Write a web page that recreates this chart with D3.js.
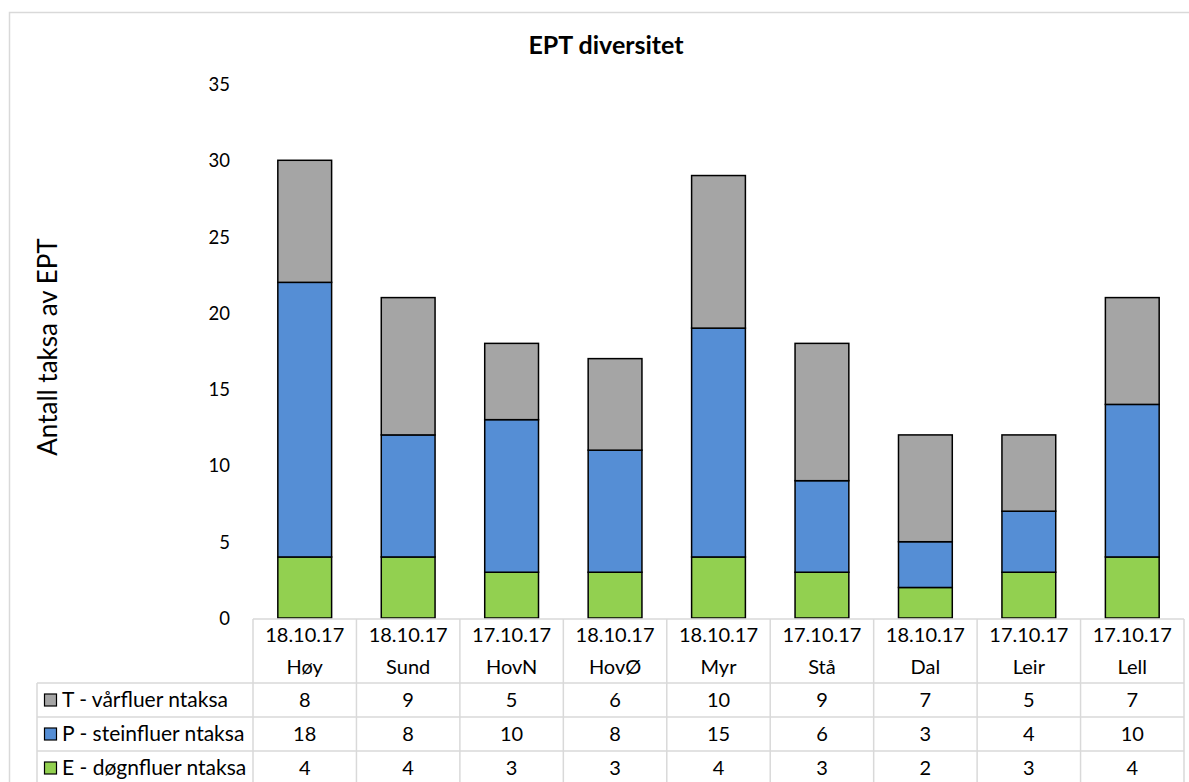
<!DOCTYPE html>
<html><head><meta charset="utf-8">
<script src="https://cdn.jsdelivr.net/npm/d3@7"></script>
<style>body{margin:0;background:#fff}svg{display:block;font-family:Lato,"Noto Sans",sans-serif}</style>
</head><body><svg id="c" width="1189" height="782"></svg>
<script>
const dates = ["18.10.17","18.10.17","17.10.17","18.10.17","18.10.17","17.10.17","18.10.17","17.10.17","17.10.17"];
const sites = ["Høy","Sund","HovN","HovØ","Myr","Stå","Dal","Leir","Lell"];
const seriesNames = ["T - vårfluer ntaksa","P - steinfluer ntaksa","E - døgnfluer ntaksa"];
const tValues = [8,9,5,6,10,9,7,5,7];
const pValues = [18,8,10,8,15,6,3,4,10];
const eValues = [4,4,3,3,4,3,2,3,4];
const yTicks = [0,5,10,15,20,25,30,35];
const colors = {E:"#92d050",P:"#558ed5",T:"#a5a5a5"};

const svg = d3.select("#c");
const grid = "#d9d9d9";
svg.append("rect").attr("x",9.5).attr("y",12.5).attr("width",1200).attr("height",800)
  .attr("fill","none").attr("stroke",grid).attr("stroke-width",1.5);

const x0 = 253, x1 = 1184;
const x = d3.scaleBand().domain(d3.range(sites.length)).range([x0,x1]).paddingInner(0.48).paddingOuter(0.24);
const y = d3.scaleLinear().domain([0,35]).range([618,84]);

svg.append("text").attr("x",606).attr("y",54).attr("text-anchor","middle")
  .attr("font-size",25).attr("font-weight","bold").attr("fill","#000").text("EPT diversitet");

svg.append("text").attr("transform","translate(57,347) rotate(-90)").attr("text-anchor","middle")
  .attr("font-size",26).attr("fill","#000").text("Antall taksa av EPT");

const yAxis = d3.axisLeft(y).tickValues(yTicks).tickSize(0).tickPadding(0);
const ga = svg.append("g").attr("transform","translate(230,0)").call(yAxis);
ga.select(".domain").remove();
ga.selectAll("text").attr("font-size",18.5).attr("fill","#000").attr("font-family","Lato,sans-serif").attr("dy","0.35em");

const rows = sites.map((s,i)=>({i,E:eValues[i],P:pValues[i],T:tValues[i]}));
const stack = d3.stack().keys(["E","P","T"])(rows);
svg.append("g").selectAll("g").data(stack).join("g").attr("fill",d=>colors[d.key])
  .selectAll("rect").data(d=>d).join("rect")
  .attr("x",d=>x(d.data.i)).attr("width",x.bandwidth())
  .attr("y",d=>y(d[1])).attr("height",d=>y(d[0])-y(d[1]))
  .attr("stroke","#000").attr("stroke-width",1.5);

const colW = (x1-x0)/sites.length;
const rowY = [619,683,717,751,785];
const tg = svg.append("g").attr("stroke",grid).attr("stroke-width",1.5);
tg.append("line").attr("x1",x0).attr("x2",x1).attr("y1",rowY[0]).attr("y2",rowY[0]);
rowY.slice(1).forEach(yy=>tg.append("line").attr("x1",37).attr("x2",x1).attr("y1",yy).attr("y2",yy));
d3.range(sites.length+1).forEach(k=>tg.append("line").attr("x1",x0+k*colW).attr("x2",x0+k*colW).attr("y1",rowY[0]).attr("y2",800));
tg.append("line").attr("x1",37).attr("x2",37).attr("y1",rowY[1]).attr("y2",800);

const tt = svg.append("g").attr("font-size",20).attr("fill","#000").attr("text-anchor","middle");
sites.forEach((s,i)=>{
  const cx = x0+(i+0.5)*colW;
  tt.append("text").attr("x",cx).attr("y",642).text(dates[i]);
  tt.append("text").attr("x",cx).attr("y",674).text(s);
});
const vals = [tValues,pValues,eValues];
const keys = ["T","P","E"];
vals.forEach((arr,r)=>{
  const cy = (rowY[r+1]+rowY[r+2])/2;
  arr.forEach((v,i)=>tt.append("text").attr("x",x0+(i+0.5)*colW).attr("y",cy).attr("dy","0.35em").text(v));
  svg.append("rect").attr("x",44.5).attr("y",cy-6).attr("width",12).attr("height",12)
    .attr("fill",colors[keys[r]]).attr("stroke","#000").attr("stroke-width",1.2);
  svg.append("text").attr("x",62).attr("y",cy).attr("dy","0.35em").attr("font-size",21).attr("fill","#000").text(seriesNames[r]);
});
</script></body></html>
